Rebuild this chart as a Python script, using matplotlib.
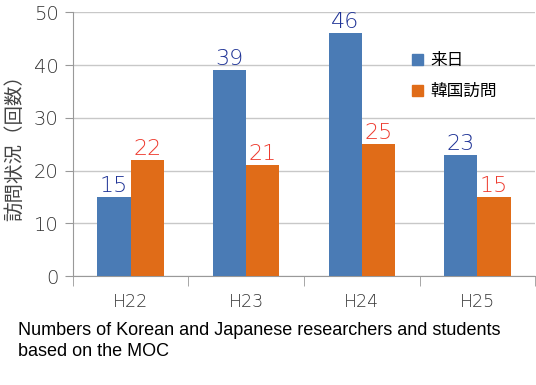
import matplotlib
matplotlib.use("Agg")
import matplotlib.pyplot as plt
from matplotlib.patches import Patch
import numpy as np

categories = ["H22", "H23", "H24", "H25"]
visits_japan = [15, 39, 46, 23]
visits_korea = [22, 21, 25, 15]
series_names = ["来日", "韓国訪問"]
yticks = [0, 10, 20, 30, 40, 50]

blue = "#4a7bb5"
orange = "#e06c18"
blue_txt = "#1f3396"
red_txt = "#ee3b2f"

plt.rcParams['font.family'] = ['DejaVu Sans', 'Noto Sans CJK JP']

W, H = 536, 385
fig = plt.figure(figsize=(W/100, H/100), dpi=100)
ax = fig.add_axes([72.7/W, (H-276)/H, (535.3-72.7)/W, (276-12.3)/H])

x = np.arange(len(categories))
bw = 0.288
b1 = ax.bar(x - bw/2, visits_japan, bw, color=blue, zorder=3)
b2 = ax.bar(x + bw/2, visits_korea, bw, color=orange, zorder=3)

for rect, v in zip(b1, visits_japan):
    ax.text(rect.get_x() + rect.get_width()/2, v + 0.2, str(v), ha='center', va='bottom',
            fontsize=16, color=blue_txt, fontweight='light')
for rect, v in zip(b2, visits_korea):
    ax.text(rect.get_x() + rect.get_width()/2, v + 0.2, str(v), ha='center', va='bottom',
            fontsize=16, color=red_txt, fontweight='light')

ax.set_xlim(-0.5, 3.5)
ax.set_ylim(0, 50)
ax.set_yticks(yticks)
ax.set_yticklabels([str(t) for t in yticks], fontsize=14, color="#333333", fontweight='light')
ax.set_xticks(x)
ax.set_xticklabels(categories, fontsize=12.5, color="#333333", fontweight='light')
ax.set_xticks(np.arange(-0.5, 4.0, 1.0), minor=True)
ax.tick_params(axis='x', which='major', length=0, pad=12)
ax.tick_params(axis='x', which='minor', length=7, color="#999999")
ax.tick_params(axis='y', length=6, color="#999999", pad=4)

ax.grid(axis='y', color="#c8c8c8", linewidth=1, zorder=0)
ax.set_axisbelow(True)
for s in ['top', 'right']:
    ax.spines[s].set_visible(False)
ax.spines['left'].set_color("#999999")
ax.spines['bottom'].set_color("#999999")

handles = [Patch(color=blue), Patch(color=orange)]
leg = ax.legend(handles, series_names, loc='upper left',
                bbox_to_anchor=(397/W, (H-37)/H), bbox_transform=fig.transFigure,
                frameon=False, handlelength=0.65, handleheight=0.65,
                handletextpad=0.45, labelspacing=0.85,
                prop={'family': ['Noto Sans CJK JP'], 'size': 12})

fig.text(15/W, (H-143)/H, "訪問状況（回数）", rotation=90, ha='center', va='center',
         fontsize=14, color="#444444", family=['Noto Sans CJK JP'])

fig.text(18/W, (H-322)/H, "Numbers of Korean and Japanese researchers and students\nbased on the MOC",
         ha='left', va='top', fontsize=13, color="#000000", linespacing=1.3,
         family=['Liberation Sans Narrow', 'Liberation Sans'])

fig.savefig("out.png", dpi=100)
